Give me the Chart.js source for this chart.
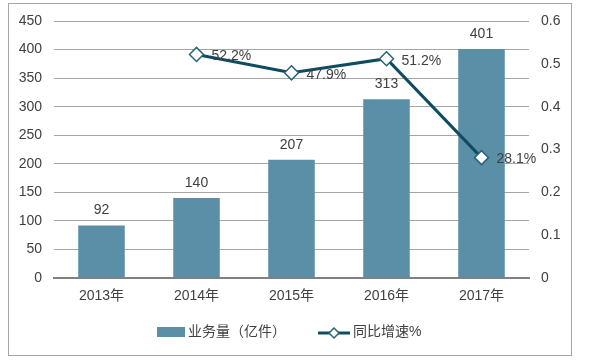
<!DOCTYPE html>
<html>
<head>
<meta charset="utf-8">
<script src="https://cdn.jsdelivr.net/npm/chart.js@4"></script>
<style>
  html, body { margin: 0; padding: 0; background: #fff; }
  #wrap { width: 600px; height: 360px; }
</style>
</head>
<body>
<div id="wrap"><canvas id="plot"></canvas></div>
<script>
const categories = ['2013年', '2014年', '2015年', '2016年', '2017年']
const volume = [92, 140, 207, 313, 401]
const growth = [null, 0.522, 0.479, 0.512, 0.281]
const growthLabels = [null, '52.2%', '47.9%', '51.2%', '28.1%']

const barColor = '#5b8fa7'
const lineColor = '#0e4c60'
const textColor = '#404040'
const fontFamily = '"Liberation Sans", Arial, "Noto Sans CJK SC", sans-serif'

// labels + frame + legend
const extras = {
    id: 'extras',
    afterDatasetsDraw(chart) {
        const ctx = chart.ctx
        ctx.save()
        ctx.font = '14px ' + fontFamily
        ctx.fillStyle = textColor
        // bar values
        const bars = chart.getDatasetMeta(0).data
        ctx.textAlign = 'center'
        ctx.textBaseline = 'middle'
        bars.forEach((b, i) => {
            ctx.fillText(String(volume[i]), b.x, b.y - 15)
        })
        // line values
        const pts = chart.getDatasetMeta(1).data
        ctx.textAlign = 'left'
        pts.forEach((p, i) => {
            if (growth[i] == null) return
            ctx.fillText(growthLabels[i], p.x + 15, p.y + 2)
        })
        ctx.restore()
    },
    afterDraw(chart) {
        const ctx = chart.ctx
        ctx.save()
        // outer frame
        ctx.strokeStyle = '#a6a6a6'
        ctx.lineWidth = 1
        ctx.strokeRect(8.5, 3.5, 563, 352)
        // legend
        ctx.font = '14px ' + fontFamily
        ctx.fillStyle = textColor
        ctx.textBaseline = 'middle'
        ctx.textAlign = 'left'
        const ly = 332
        ctx.fillStyle = barColor
        ctx.fillRect(157, ly - 5, 28, 10)
        ctx.fillStyle = textColor
        ctx.fillText(chart.data.datasets[0].label, 188, ly)
        ctx.strokeStyle = lineColor
        ctx.lineWidth = 3
        ctx.beginPath()
        ctx.moveTo(318, ly + 1)
        ctx.lineTo(350, ly + 1)
        ctx.stroke()
        ctx.fillStyle = '#fff'
        ctx.lineWidth = 1.5
        ctx.strokeStyle = '#2a6478'
        ctx.beginPath()
        ctx.moveTo(334, ly - 4)
        ctx.lineTo(339, ly + 1)
        ctx.lineTo(334, ly + 6)
        ctx.lineTo(329, ly + 1)
        ctx.closePath()
        ctx.fill()
        ctx.stroke()
        ctx.fillStyle = textColor
        ctx.fillText(chart.data.datasets[1].label, 353, ly)
        ctx.restore()
    }
}

const chart = new Chart(document.getElementById('plot'), {
    type: 'bar',
    data: {
        labels: categories,
        datasets: [
            {
                label: '业务量（亿件）',
                data: volume,
                backgroundColor: barColor,
                yAxisID: 'y',
                categoryPercentage: 1,
                barPercentage: 0.49,
                order: 2
            },
            {
                type: 'line',
                label: '同比增速%',
                data: growth,
                yAxisID: 'y1',
                borderColor: lineColor,
                borderWidth: 3,
                pointStyle: 'rectRot',
                pointRadius: 7,
                pointBackgroundColor: '#fff',
                pointBorderColor: '#2a6478',
                pointBorderWidth: 1.5,
                tension: 0,
                order: 1
            }
        ]
    },
    options: {
        responsive: true,
        maintainAspectRatio: false,
        animation: false,
        devicePixelRatio: 1,
        layout: { padding: { top: 21, right: 0, bottom: 0, left: 0 } },
        plugins: {
            legend: { display: false },
            tooltip: { enabled: false }
        },
        scales: {
            x: {
                grid: { display: false, drawTicks: false },
                border: { color: '#808080', width: 2 },
                ticks: {
                    color: textColor,
                    font: { size: 14, family: fontFamily },
                    padding: 10
                },
                afterFit(s) { s.height = 82 }
            },
            y: {
                position: 'left',
                min: 0,
                max: 450,
                ticks: {
                    stepSize: 50,
                    color: textColor,
                    font: { size: 14, family: fontFamily },
                    padding: 12
                },
                grid: { color: '#a6a6a6', drawTicks: false, lineWidth: 1 },
                border: { display: false },
                afterFit(s) { s.width = 54 }
            },
            y1: {
                position: 'right',
                min: 0,
                max: 0.6,
                ticks: {
                    stepSize: 0.1,
                    color: textColor,
                    font: { size: 14, family: fontFamily },
                    padding: 12,
                    callback: v => Math.round(v * 10) / 10
                },
                grid: { display: false, drawTicks: false },
                border: { display: false },
                afterFit(s) { s.width = 71 }
            }
        }
    },
    plugins: [extras]
})
</script>
</body>
</html>
